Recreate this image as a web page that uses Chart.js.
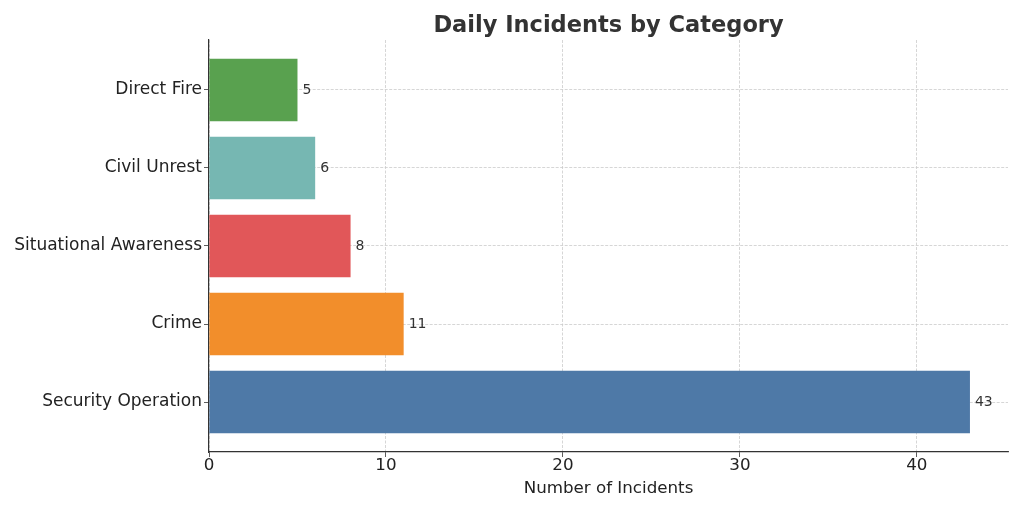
<!DOCTYPE html>
<html><head><meta charset="utf-8">
<script src="https://cdn.jsdelivr.net/npm/chart.js@4"></script>
<style>html,body{margin:0;padding:0;background:#fff;}#wrap{width:1024px;height:512px;}</style>
</head><body><div id="wrap"><canvas id="c" width="1024" height="512"></canvas></div>
<script>
const categories = ["Security Operation", "Crime", "Situational Awareness", "Civil Unrest", "Direct Fire"];
const incidents = [43, 11, 8, 6, 5];
const barColors = ["#4e79a7", "#f28e2b", "#e15759", "#76b7b2", "#59a14f"];
const xTicks = [0, 10, 20, 30, 40];
const titleText = "Daily Incidents by Category";
const xTitle = "Number of Incidents";

const FONT = "'DejaVu Sans', sans-serif";
const points = incidents.map((v, i) => ({x: v, y: i}));

const labelPlugin = {
  id: 'labels',
  afterDatasetsDraw(chart) {
    const ctx = chart.ctx;
    const meta = chart.getDatasetMeta(0);
    ctx.save();
    ctx.font = "14px " + FONT;
    ctx.fillStyle = "#333";
    ctx.textAlign = "left";
    ctx.textBaseline = "middle";
    meta.data.forEach((el, i) => {
      ctx.fillText(String(incidents[i]), el.x + 5, el.y);
    });
    ctx.restore();
  },
  afterDraw(chart) {
    const ctx = chart.ctx;
    const a = chart.chartArea;
    ctx.save();
    ctx.font = "bold 22.5px " + FONT;
    ctx.fillStyle = "#333";
    ctx.textAlign = "center";
    ctx.textBaseline = "middle";
    ctx.fillText(titleText, (a.left + a.right) / 2, 26);
    ctx.restore();
  }
};

const gridOpts = {color: "#cccccc", lineWidth: 0.8, tickColor: "#333", tickLength: 5, tickBorderDash: [], offset: false};
const borderOpts = {color: "#333", width: 1.2, dash: [3, 1.5]};

new Chart(document.getElementById('c'), {
  type: 'bar',
  data: {
    datasets: [{
      data: points,
      backgroundColor: barColors,
      borderWidth: 0,
      barPercentage: 0.8,
      categoryPercentage: 1.0
    }]
  },
  options: {
    indexAxis: 'y',
    responsive: false,
    animation: false,
    layout: {padding: {left: 0, right: 16, top: 40, bottom: 0}},
    plugins: {legend: {display: false}, tooltip: {enabled: false}, title: {display: false}},
    scales: {
      x: {
        type: 'linear',
        min: 0,
        max: 45.15,
        z: 1,
        afterBuildTicks(s) { s.ticks = xTicks.map(v => ({value: v})); },
        afterFit(s) { s.height = 60; },
        grid: gridOpts,
        border: borderOpts,
        ticks: {font: {family: FONT, size: 16.7}, color: "#222", padding: -1},
        title: {display: true, text: xTitle, font: {family: FONT, size: 16.7}, color: "#222", padding: {top: 2, bottom: 13}}
      },
      y: {
        type: 'linear',
        offset: false,
        min: -0.64,
        max: 4.64,
        z: 1,
        afterBuildTicks(s) { s.ticks = categories.map((c, i) => ({value: i})); },
        afterFit(s) { s.width = 209; },
        grid: gridOpts,
        border: borderOpts,
        ticks: {font: {family: FONT, size: 17}, color: "#222", padding: 2,
          callback: (v) => categories[v] !== undefined ? categories[v] : ""}
      }
    }
  },
  plugins: [labelPlugin]
});
</script></body></html>
